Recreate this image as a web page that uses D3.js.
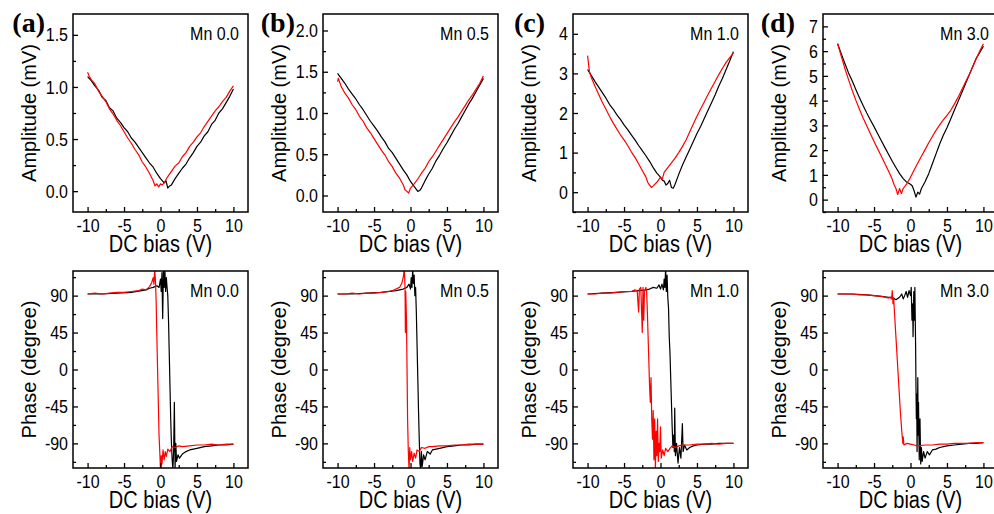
<!DOCTYPE html>
<html>
<head>
<meta charset="utf-8">
<script src="https://cdn.jsdelivr.net/npm/d3@7"></script>
<style>
body { margin: 0; background: #fff; }
svg text { font-family: "Liberation Sans", Arial, sans-serif; fill: #000; }
</style>
</head>
<body>
<svg id="fig"></svg>
<script>
// ---- data: [DC bias (V), value] ----
var ampBlackA = [[-10,1.10],[-9.5,1.06],[-9,1.01],[-8.5,0.97],[-8,0.90],[-7.5,0.87],[-7,0.80],[-6.5,0.77],[-6,0.70],[-5.5,0.66],[-5,0.61],[-4.5,0.57],[-4,0.51],[-3.5,0.47],[-3,0.42],[-2.5,0.37],[-2,0.32],[-1.5,0.27],[-1,0.23],[-0.5,0.17],[0,0.12],[0.5,0.08],[0.75,0.10],[1,0.03],[1.25,0.05],[1.5,0.06],[2,0.12],[2.5,0.17],[3,0.22],[3.5,0.26],[4,0.32],[4.5,0.37],[5,0.43],[5.5,0.47],[6,0.53],[6.5,0.57],[7,0.64],[7.5,0.68],[8,0.75],[8.5,0.79],[9,0.85],[9.5,0.91],[10,0.98]];
var ampRedA = [[-10,1.14],[-9.75,1.10],[-9.5,1.07],[-9,1.03],[-8.5,0.96],[-8,0.91],[-7.5,0.86],[-7,0.79],[-6.5,0.74],[-6,0.68],[-5.5,0.63],[-5,0.57],[-4.5,0.51],[-4,0.46],[-3.5,0.40],[-3,0.35],[-2.5,0.28],[-2,0.23],[-1.5,0.17],[-1,0.10],[-0.75,0.05],[-0.5,0.07],[-0.25,0.04],[0,0.07],[0.25,0.06],[0.5,0.08],[1,0.14],[1.5,0.19],[2,0.24],[2.5,0.27],[3,0.33],[3.5,0.37],[4,0.43],[4.5,0.47],[5,0.52],[5.5,0.56],[6,0.62],[6.5,0.67],[7,0.72],[7.5,0.77],[8,0.81],[8.5,0.86],[9,0.90],[9.5,0.96],[10,1.01]];

var ampBlackB = [[-10,1.48],[-9.5,1.42],[-9,1.36],[-8.5,1.29],[-8,1.23],[-7.5,1.17],[-7,1.10],[-6.5,1.04],[-6,0.97],[-5.5,0.90],[-5,0.84],[-4.5,0.78],[-4,0.71],[-3.5,0.65],[-3,0.57],[-2.5,0.52],[-2,0.45],[-1.5,0.38],[-1,0.31],[-0.5,0.25],[0,0.17],[0.5,0.11],[0.75,0.08],[1,0.05],[1.25,0.06],[1.5,0.09],[2,0.18],[2.5,0.26],[3,0.33],[3.5,0.42],[4,0.49],[4.5,0.57],[5,0.64],[5.5,0.72],[6,0.80],[6.5,0.87],[7,0.95],[7.5,1.03],[8,1.11],[8.5,1.18],[9,1.26],[9.5,1.34],[10,1.42]];
var ampRedB = [[-10,1.38],[-9.9,1.42],[-9.5,1.32],[-9,1.24],[-8.5,1.18],[-8,1.10],[-7.5,1.04],[-7,0.96],[-6.5,0.90],[-6,0.82],[-5.5,0.76],[-5,0.69],[-4.5,0.62],[-4,0.55],[-3.5,0.49],[-3,0.41],[-2.5,0.35],[-2,0.27],[-1.5,0.21],[-1,0.13],[-0.75,0.07],[-0.5,0.05],[-0.25,0.03],[0,0.09],[0.5,0.14],[1,0.20],[1.5,0.27],[2,0.33],[2.5,0.41],[3,0.47],[3.5,0.54],[4,0.61],[4.5,0.68],[5,0.75],[5.5,0.82],[6,0.89],[6.5,0.95],[7,1.02],[7.5,1.09],[8,1.16],[8.5,1.22],[9,1.29],[9.5,1.36],[10,1.45]];

var ampBlackC = [[-10,3.10],[-9.5,2.95],[-9,2.80],[-8.5,2.66],[-8,2.52],[-7.5,2.38],[-7,2.22],[-6.5,2.10],[-6,1.96],[-5.5,1.84],[-5,1.70],[-4.5,1.58],[-4,1.45],[-3.5,1.32],[-3,1.18],[-2.5,1.05],[-2,0.92],[-1.5,0.78],[-1,0.62],[-0.5,0.48],[0,0.38],[0.25,0.30],[0.5,0.28],[0.75,0.18],[1,0.22],[1.25,0.30],[1.5,0.12],[1.75,0.10],[2,0.20],[2.5,0.45],[3,0.68],[3.5,0.88],[4,1.08],[4.5,1.28],[5,1.48],[5.5,1.66],[6,1.86],[6.5,2.06],[7,2.26],[7.5,2.46],[8,2.68],[8.5,2.88],[9,3.10],[9.5,3.32],[10,3.55]];
var ampRedC = [[-10,3.45],[-9.75,3.05],[-9.5,2.90],[-9,2.68],[-8.5,2.48],[-8,2.28],[-7.5,2.10],[-7,1.92],[-6.5,1.75],[-6,1.60],[-5.5,1.45],[-5,1.32],[-4.5,1.18],[-4,1.02],[-3.5,0.88],[-3,0.72],[-2.5,0.55],[-2,0.38],[-1.75,0.25],[-1.5,0.18],[-1.25,0.12],[-1,0.16],[-0.5,0.25],[0,0.38],[0.25,0.33],[0.5,0.50],[1,0.62],[1.5,0.74],[2,0.86],[2.5,1.00],[3,1.15],[3.5,1.32],[4,1.52],[4.5,1.72],[5,1.92],[5.5,2.10],[6,2.28],[6.5,2.46],[7,2.63],[7.5,2.80],[8,2.97],[8.5,3.13],[9,3.28],[9.5,3.40],[10,3.52]];

var ampBlackD = [[-10,6.30],[-9.5,5.90],[-9,5.50],[-8.5,5.12],[-8,4.80],[-7.5,4.45],[-7,4.12],[-6.5,3.80],[-6,3.50],[-5.5,3.22],[-5,2.95],[-4.5,2.66],[-4,2.38],[-3.5,2.10],[-3,1.82],[-2.5,1.55],[-2,1.30],[-1.5,1.05],[-1,0.85],[-0.5,0.70],[0,0.62],[0.25,0.55],[0.5,0.35],[0.75,0.10],[1,0.30],[1.25,0.22],[1.5,0.45],[2,0.72],[2.5,1.05],[3,1.45],[3.5,1.85],[4,2.25],[4.5,2.60],[5,2.90],[5.5,3.25],[6,3.60],[6.5,3.95],[7,4.30],[7.5,4.65],[8,5.00],[8.5,5.35],[9,5.70],[9.5,5.95],[10,6.20]];
var ampRedD = [[-10,6.30],[-9.5,5.80],[-9,5.30],[-8.5,4.85],[-8,4.42],[-7.5,4.02],[-7,3.65],[-6.5,3.30],[-6,2.98],[-5.5,2.66],[-5,2.35],[-4.5,2.05],[-4,1.75],[-3.5,1.45],[-3,1.15],[-2.5,0.82],[-2.25,0.60],[-2,0.45],[-1.75,0.20],[-1.5,0.45],[-1.25,0.25],[-1,0.45],[-0.5,0.65],[0,0.90],[0.5,1.20],[1,1.48],[1.5,1.75],[2,2.02],[2.5,2.30],[3,2.55],[3.5,2.80],[4,3.02],[4.5,3.22],[5,3.40],[5.5,3.60],[6,3.85],[6.5,4.12],[7,4.42],[7.5,4.72],[8,5.02],[8.5,5.35],[9,5.68],[9.5,6.00],[10,6.30]];

var phBlackA = [[-10,92],[-8,92],[-6,93],[-4,94],[-2,97],[-1.5,99],[-1,100],[-0.5,102],[-0.2,100],[0,110],[0.1,95],[0.2,118],[0.3,62],[0.4,120],[0.5,100],[0.6,122],[0.7,95],[0.8,112],[0.9,100],[1.0,90],[1.1,60],[1.2,20],[1.3,-20],[1.4,-60],[1.5,-90],[1.6,-110],[1.7,-122],[1.8,-100],[1.9,-40],[2.0,-120],[2.1,-90],[2.2,-112],[2.4,-104],[2.6,-108],[3,-103],[3.5,-100],[4,-98],[5,-96],[6,-94],[7,-93],[8,-92],[9,-92],[10,-91]];
var phRedA = [[-10,92],[-9,93],[-8,92],[-7,93],[-6,94],[-5,94],[-4,95],[-3,96],[-2.5,98],[-2,97],[-1.5,101],[-1.2,106],[-1,112],[-0.9,104],[-0.8,122],[-0.7,110],[-0.6,85],[-0.5,40],[-0.4,0],[-0.3,-40],[-0.2,-80],[-0.1,-100],[0,-122],[0.1,-105],[0.2,-115],[0.35,-98],[0.5,-110],[0.65,-100],[0.8,-106],[1,-97],[1.3,-100],[1.6,-94],[2,-95],[2.5,-93],[3,-94],[4,-93],[5,-92],[6,-92],[7,-91],[8,-92],[9,-91],[10,-91]];

var phBlackB = [[-10,92],[-8,92],[-6,93],[-4,94],[-2,96],[-1,98],[-0.5,100],[-0.2,104],[0,98],[0.1,112],[0.2,100],[0.3,122],[0.4,105],[0.5,115],[0.6,90],[0.7,100],[0.8,70],[0.9,30],[1.0,-10],[1.1,-50],[1.2,-85],[1.3,-115],[1.4,-122],[1.5,-100],[1.6,-118],[1.8,-104],[2.0,-110],[2.3,-100],[2.7,-103],[3,-98],[4,-96],[5,-94],[6,-93],[7,-92],[8,-92],[9,-91],[10,-91]];
var phRedB = [[-10,92],[-9,92],[-8,93],[-7,92],[-6,93],[-5,93],[-4,94],[-3,95],[-2.5,96],[-2,98],[-1.5,100],[-1.2,105],[-1,112],[-0.85,122],[-0.75,100],[-0.7,45],[-0.65,95],[-0.55,60],[-0.5,20],[-0.45,-20],[-0.4,-60],[-0.3,-100],[-0.2,-122],[-0.1,-95],[0,-110],[0.15,-100],[0.3,-112],[0.5,-102],[0.7,-108],[0.9,-98],[1.2,-100],[1.5,-95],[2,-96],[2.5,-94],[3,-94],[4,-93],[5,-93],[6,-92],[7,-92],[8,-91],[9,-91],[10,-91]];

var phBlackC = [[-10,92],[-8,93],[-6,94],[-4,95],[-3,96],[-2,97],[-1.5,98],[-1,100],[-0.5,99],[-0.2,103],[0,98],[0.2,104],[0.4,97],[0.5,110],[0.6,100],[0.7,122],[0.8,95],[0.9,115],[1.0,88],[1.1,75],[1.2,40],[1.3,20],[1.4,-10],[1.5,-40],[1.6,-70],[1.7,-95],[1.8,-80],[1.9,-100],[1.95,-47],[2.05,-105],[2.2,-90],[2.4,-114],[2.6,-95],[2.8,-108],[3.0,-66],[3.1,-100],[3.3,-92],[3.6,-98],[4,-95],[4.5,-93],[5,-92],[6,-91],[7,-91],[8,-90],[9,-90],[10,-90]];
var phRedC = [[-10,92],[-9,92],[-8,93],[-7,93],[-6,94],[-5,95],[-4,95],[-3.5,97],[-3.2,96],[-3.0,70],[-2.9,98],[-2.7,100],[-2.5,45],[-2.4,100],[-2.3,60],[-2.2,95],[-2.0,100],[-1.9,95],[-1.8,70],[-1.7,40],[-1.6,10],[-1.5,-20],[-1.4,-40],[-1.3,-10],[-1.2,-60],[-1.1,-85],[-1.0,-50],[-0.9,-110],[-0.8,-60],[-0.7,-122],[-0.6,-75],[-0.5,-105],[-0.4,-60],[-0.3,-112],[-0.2,-90],[-0.1,-100],[0,-70],[0.1,-108],[0.3,-98],[0.5,-105],[0.7,-96],[1,-100],[1.3,-96],[1.6,-93],[2,-95],[2.5,-93],[3,-92],[4,-92],[5,-91],[6,-91],[7,-90],[8,-91],[9,-90],[10,-90]];

var phBlackD = [[-10,92],[-8,92],[-6,91],[-4,89],[-3,88],[-2.5,88],[-2,85],[-1.5,88],[-1.2,92],[-1,86],[-0.8,90],[-0.6,95],[-0.4,88],[-0.2,96],[0,90],[0.1,100],[0.2,60],[0.3,80],[0.35,40],[0.45,95],[0.55,60],[0.6,100],[0.7,30],[0.75,-20],[0.8,-60],[0.85,-30],[0.9,-100],[1.0,-10],[1.05,-80],[1.1,-40],[1.2,-110],[1.3,-60],[1.4,-115],[1.5,-95],[1.6,-112],[1.8,-100],[2.0,-108],[2.3,-100],[2.6,-104],[3,-98],[3.5,-97],[4,-95],[5,-93],[6,-92],[7,-91],[8,-90],[9,-90],[10,-89]];
var phRedD = [[-10,92],[-9,92],[-8,92],[-7,91],[-6,91],[-5,90],[-4,89],[-3.5,88],[-3,87],[-2.8,88],[-2.6,86],[-2.5,96],[-2.4,80],[-2.3,86],[-2.2,70],[-2.0,40],[-1.8,10],[-1.6,-20],[-1.4,-50],[-1.2,-75],[-1.05,-90],[-1,-82],[-0.9,-92],[-0.5,-90],[0,-91],[0.5,-92],[1,-93],[2,-92],[3,-92],[4,-91],[5,-91],[6,-90],[7,-90],[8,-90],[9,-89],[10,-89]];

var panelLetters = ["(a)", "(b)", "(c)", "(d)"];
var mnLabels = ["Mn 0.0", "Mn 0.5", "Mn 1.0", "Mn 3.0"];
var biasTicks = [-10, -5, 0, 5, 10];
var phaseTicks = [-90, -45, 0, 45, 90];
var ampTicks = [[0, 0.5, 1.0, 1.5], [0, 0.5, 1.0, 1.5, 2.0], [0, 1, 2, 3, 4], [0, 1, 2, 3, 4, 5, 6, 7]];

var width = 994;
var height = 514;

var svg = d3.select("#fig")
    .attr("width", width)
    .attr("height", height);

var colLeft = [73, 323, 573, 823];
var plotW = 175;
var stretch = 1.2; // the source figure's lettering is taller than it is wide

// amplitude axis ranges per panel
var ampSetup = [
    { domain: [-0.2, 1.7], minor: 0.25, fmt: ".1f" },
    { domain: [-0.2, 2.2], minor: 0.25, fmt: ".1f" },
    { domain: [-0.5, 4.5], minor: 0.5, fmt: "d" },
    { domain: [-0.5, 7.5], minor: 0.5, fmt: "d" }
];

var ampData = [[ampBlackA, ampRedA], [ampBlackB, ampRedB], [ampBlackC, ampRedC], [ampBlackD, ampRedD]];
var phData = [[phBlackA, phRedA], [phBlackB, phRedB], [phBlackC, phRedC], [phBlackD, phRedD]];

function drawPanel(id, left, top, h, yDomain, yTicks, yMinor, yFmt, series, yTitle, mn) {
    var g = svg.append("g").attr("transform", "translate(" + left + "," + top + ")");

    var x = d3.scaleLinear().domain([-12, 12]).range([0, plotW]);
    var y = d3.scaleLinear().domain(yDomain).range([h, 0]);

    g.append("clipPath").attr("id", id)
        .append("rect").attr("width", plotW).attr("height", h);

    var line = d3.line()
        .x(function (d) { return x(d[0]); })
        .y(function (d) { return y(d[1]); });

    var colors = ["#000000", "#ff0000"];
    var lines = g.append("g").attr("clip-path", "url(#" + id + ")");
    series.forEach(function (s, i) {
        lines.append("path")
            .datum(s)
            .attr("d", line)
            .attr("fill", "none")
            .attr("stroke", colors[i])
            .attr("stroke-width", 1.2)
            .attr("stroke-linejoin", "round");
    });

    // minor ticks
    var xMinor = [-7.5, -2.5, 2.5, 7.5];
    var yMinorVals = d3.range(yDomain[0], yDomain[1], yMinor).map(function (v) { return Math.round(v / yMinor) * yMinor; })
        .filter(function (v) { return yTicks.indexOf(v) < 0 && v >= yDomain[0] && v <= yDomain[1]; });

    g.append("g").attr("class", "tk").attr("transform", "translate(0," + h + ")")
        .call(d3.axisBottom(x).tickValues(xMinor).tickSize(-3).tickSizeOuter(0).tickFormat(""));
    g.append("g").attr("class", "tk")
        .call(d3.axisLeft(y).tickValues(yMinorVals).tickSize(-3).tickSizeOuter(0).tickFormat(""));

    var xAx = g.append("g").attr("class", "tk").attr("transform", "translate(0," + h + ")")
        .call(d3.axisBottom(x).tickValues(biasTicks).tickSize(-5).tickSizeOuter(0).tickPadding(7)
            .tickFormat(function (d) { return String(d); }));
    g.append("g").attr("class", "tk")
        .call(d3.axisLeft(y).tickValues(yTicks).tickSize(-5).tickSizeOuter(0).tickPadding(5)
            .tickFormat(function (d) { return yFmt ? d3.format(yFmt)(d) : String(d); }));

    g.selectAll(".tk .domain").remove();
    g.selectAll(".tk line").attr("stroke", "#000").attr("stroke-width", 1.3);
    g.selectAll(".tk text").attr("font-size", 16).attr("font-family", null)
        .attr("transform", "scale(1," + stretch + ")");
    xAx.selectAll("text").attr("y", 6 / stretch);

    g.append("rect")
        .attr("width", plotW).attr("height", h)
        .attr("fill", "none").attr("stroke", "#000").attr("stroke-width", 1.5);

    g.append("text")
        .attr("transform", "translate(" + (plotW / 2) + "," + (h + 40) + ") scale(1,1.15)")
        .attr("text-anchor", "middle").attr("font-size", 20)
        .text("DC bias (V)");

    g.append("text")
        .attr("transform", "translate(-37," + (h / 2) + ") rotate(-90)")
        .attr("text-anchor", "middle").attr("font-size", 20)
        .text(yTitle);

    g.append("text")
        .attr("transform", "translate(" + (plotW - 9) + ",26) scale(1," + stretch + ")")
        .attr("text-anchor", "end").attr("font-size", 16)
        .text(mn);

    return g;
}

for (var i = 0; i < 4; i++) {
    var s = ampSetup[i];
    var gTop = drawPanel("clipA" + i, colLeft[i], 14, 198, s.domain, ampTicks[i], s.minor, s.fmt,
        ampData[i], "Amplitude (mV)", mnLabels[i]);
    drawPanel("clipP" + i, colLeft[i], 271, 197, [-120, 120], phaseTicks, 22.5, null,
        phData[i], "Phase (degree)", mnLabels[i]);

    gTop.append("text")
        .attr("x", -28).attr("y", 18)
        .attr("text-anchor", "end")
        .attr("font-size", 28).attr("font-weight", "bold")
        .style("font-family", "'Liberation Serif', 'Times New Roman', serif")
        .text(panelLetters[i]);
}
</script>
</body>
</html>
